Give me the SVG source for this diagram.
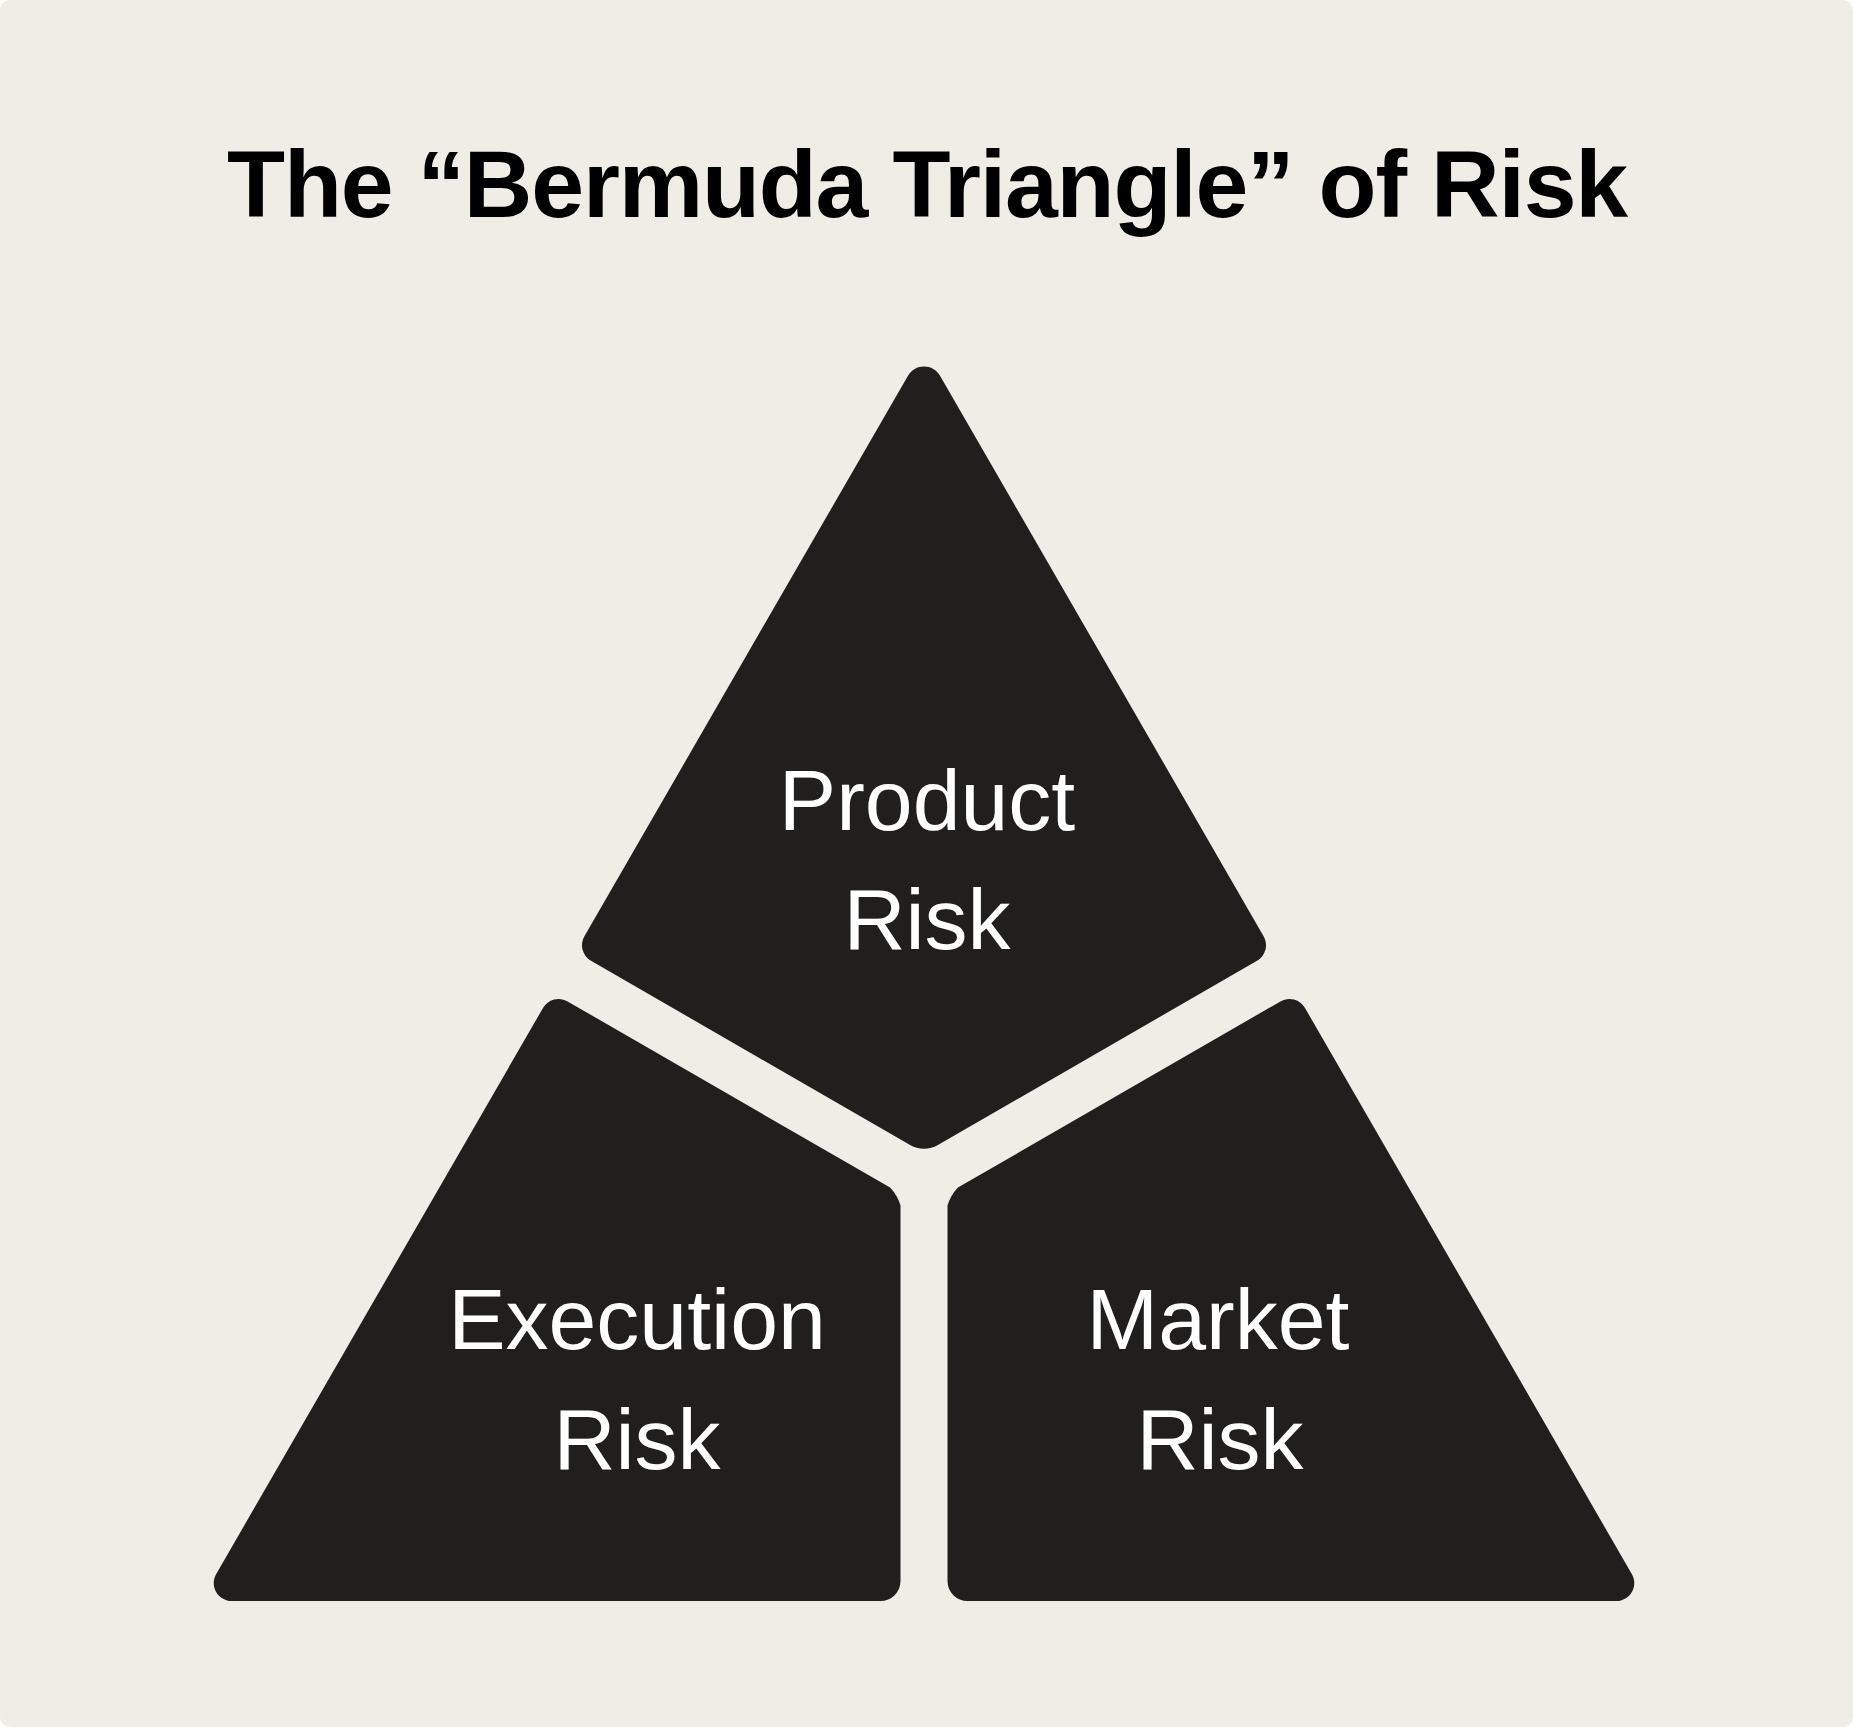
<svg xmlns="http://www.w3.org/2000/svg" width="1853" height="1727" viewBox="0 0 1853 1727">
  <style>
    .shape { fill: #201f1d; }
    .label { fill: #ffffff; font-family: "Liberation Sans", Arial, sans-serif; font-size: 86px; text-anchor: middle; }
    .title { fill: #000000; font-family: "Liberation Sans", Arial, sans-serif; font-size: 95px; font-weight: bold; text-anchor: middle; letter-spacing: -1.2px; }
  </style>
  <rect x="0" y="0" width="1853" height="1727" fill="#ffffff"/>
  <rect x="0" y="0" width="1853" height="1727" rx="10" ry="10" fill="#f0ede6"/>
  <text class="title" x="927" y="216.5">The “Bermuda Triangle” of Risk</text>
  <g id="product-risk">
    <path class="shape" d="M 940,375.7 L 1263.6,936.2 A 18 18 0 0 1 1257,960.8 L 937.9,1145 A 27.7 27.7 0 0 1 910.1,1145 L 591,960.8 A 18 18 0 0 1 584.4,936.2 L 908,375.7 A 18.5 18.5 0 0 1 940,375.7 Z"/>
    <text class="label" x="927" y="829.5">Product</text>
    <text class="label" x="927" y="949">Risk</text>
  </g>
  <g id="execution-risk">
    <path class="shape" d="M 567.6,1001.4 L 890.1,1187.6 A 44.8 44.8 0 0 1 900.5,1205.6 L 900.5,1581 A 20 20 0 0 1 880.5,1601 L 231.6,1601 A 17.9 17.9 0 0 1 216.1,1574.2 L 543,1008 A 18 18 0 0 1 567.6,1001.4 Z"/>
    <text class="label" x="637" y="1348.5">Execution</text>
    <text class="label" x="637" y="1469">Risk</text>
  </g>
  <g id="market-risk">
    <path class="shape" d="M 1280.4,1001.4 L 957.9,1187.6 A 44.8 44.8 0 0 0 947.5,1205.6 L 947.5,1581 A 20 20 0 0 0 967.5,1601 L 1616.4,1601 A 17.9 17.9 0 0 0 1631.9,1574.2 L 1305,1008 A 18 18 0 0 0 1280.4,1001.4 Z"/>
    <text class="label" x="1218" y="1348.5">Market</text>
    <text class="label" x="1220" y="1469">Risk</text>
  </g>
  <g id="connectors"></g>
</svg>
